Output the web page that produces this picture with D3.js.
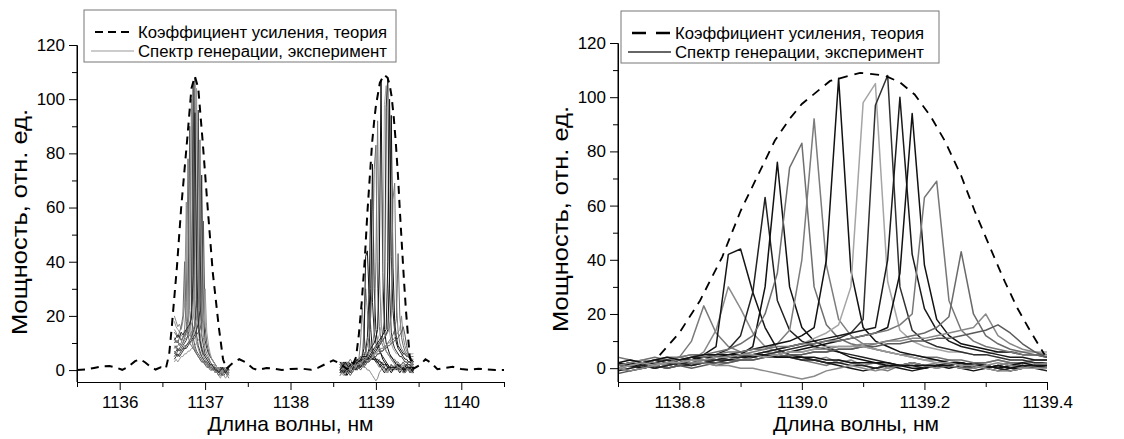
<!DOCTYPE html>
<html>
<head>
<meta charset="utf-8">
<script src="https://cdnjs.cloudflare.com/ajax/libs/d3/7.8.5/d3.min.js"></script>
<style>
  body { margin: 0; background: #fff; }
  svg { display: block; font-family: "Liberation Sans", Arial, sans-serif; }
</style>
</head>
<body>
<svg id="svg" width="1124" height="439"></svg>
<script>
// theory gain curve (nm, rel. units)
var theoryNm = [1135.50, 1135.60, 1135.70, 1135.80, 1135.88, 1135.95, 1136.03, 1136.10, 1136.18, 1136.24,
  1136.30, 1136.36, 1136.42, 1136.48, 1136.54, 1136.58, 1136.61, 1136.67, 1136.72, 1136.79,
  1136.84, 1136.88, 1136.92, 1136.97, 1137.03, 1137.09, 1137.16, 1137.21, 1137.25, 1137.32,
  1137.40, 1137.48, 1137.56, 1137.62, 1137.72, 1137.80, 1137.90, 1138.00, 1138.14, 1138.24,
  1138.32, 1138.42, 1138.50, 1138.58, 1138.66, 1138.72, 1138.768, 1138.80, 1138.834, 1138.87,
  1138.90, 1138.93, 1138.956, 1138.98, 1139.00, 1139.046, 1139.095, 1139.135, 1139.16, 1139.184,
  1139.21, 1139.233, 1139.26, 1139.282, 1139.31, 1139.331, 1139.352, 1139.372, 1139.396, 1139.44,
  1139.52, 1139.58, 1139.65, 1139.72, 1139.80, 1139.90, 1140.00, 1140.10, 1140.20, 1140.30,
  1140.40, 1140.50];
var theoryGain = [0, 0.2, 0.8, 1.4, 1.5, 1.0, 0.1, 1.2, 3.3, 4.0,
  2.8, 1.2, 0.2, 1.0, 0.5, 6, 16, 38, 60, 85,
  104, 108.5, 104, 85, 60, 36, 16, 4, 0.5, 2.5,
  4, 2.8, 0.6, 0, 0.8, 0.6, 0, 0.4, 0.5, 0.1,
  0.8, 2.4, 3.6, 2.4, 0.4, 1.2, 4.8, 13, 25, 41,
  58, 72, 84, 92, 97.5, 106, 109, 108, 105.5, 101,
  93, 84, 71, 58, 43, 32, 22, 14, 5, 0.5,
  2, 4, 2.6, 0.3, 0.8, 1.2, 0.4, 0.1, 0.5, 0.2,
  0, 0];

// measured spectra near the first gain peak
var gridA = [1136.64, 1136.66, 1136.68, 1136.70, 1136.72, 1136.74, 1136.76, 1136.78, 1136.80, 1136.82,
  1136.84, 1136.86, 1136.88, 1136.90, 1136.92, 1136.94, 1136.96, 1136.98, 1137.00, 1137.02,
  1137.04, 1137.06, 1137.08, 1137.10, 1137.12, 1137.14, 1137.16, 1137.18, 1137.20, 1137.22,
  1137.24, 1137.26, 1137.28];
var spectraA = [
  [12, 10, 11, 9, 10, 12, 15, 25, 78, 22, 12, 9, 7, 6, 5, 4, 3, 3, 2, 2, 1, 1, 0, 1, 0, -1, 0, 1, 0, -1, 0, 1, 0],
  [8, 9, 7, 8, 9, 10, 12, 14, 20, 90, 24, 12, 9, 7, 6, 5, 4, 3, 3, 2, 1, 2, 1, 0, -1, 0, 1, 0, -1, -2, -1, 0, 1],
  [15, 14, 12, 13, 11, 12, 13, 15, 18, 28, 100, 30, 14, 10, 8, 6, 5, 4, 3, 2, 2, 1, 0, 1, 0, -1, -2, -1, 0, 1, 0, -1, 0],
  [6, 7, 8, 7, 8, 9, 10, 11, 13, 16, 22, 106, 26, 13, 9, 7, 5, 4, 3, 3, 2, 1, 1, 0, 1, 0, -1, 0, 1, 0, -1, 0, 0],
  [10, 11, 10, 12, 11, 12, 13, 14, 15, 17, 20, 30, 108, 32, 15, 10, 7, 5, 4, 3, 2, 2, 1, 0, -1, 0, 1, 0, -2, -1, 0, 1, 0],
  [18, 16, 15, 14, 13, 12, 12, 13, 14, 15, 17, 19, 25, 104, 28, 14, 9, 7, 5, 4, 3, 2, 1, 1, 0, -1, -2, -3, -1, 0, 1, 0, -1],
  [5, 6, 5, 6, 7, 8, 8, 9, 10, 11, 12, 14, 16, 24, 96, 26, 13, 9, 6, 5, 4, 3, 2, 1, 1, 0, -1, 0, 1, 0, -1, -2, -1],
  [9, 8, 9, 10, 9, 10, 11, 12, 12, 13, 14, 15, 17, 19, 26, 85, 24, 12, 8, 6, 5, 3, 2, 2, 1, 0, -1, -2, -1, 0, -1, -2, -3],
  [4, 5, 6, 5, 6, 7, 8, 8, 9, 10, 11, 12, 13, 15, 17, 22, 72, 20, 11, 8, 6, 5, 4, 3, 2, 1, 0, 1, 0, -1, 0, 1, 0],
  [20, 18, 16, 17, 15, 18, 24, 62, 20, 14, 11, 9, 8, 6, 5, 4, 4, 3, 2, 2, 1, 1, 0, 0, -1, 0, 1, 0, -1, 0, 0, -1, 0],
  [7, 6, 7, 8, 7, 8, 9, 9, 10, 10, 11, 11, 12, 13, 14, 15, 18, 55, 16, 10, 7, 5, 4, 3, 2, 1, 0, -1, -2, -1, 0, -1, -2],
  [14, 13, 12, 14, 16, 20, 40, 18, 13, 10, 9, 8, 7, 6, 5, 4, 3, 3, 2, 1, 1, 0, 0, 1, 0, -1, -2, -1, 0, 1, 0, -1, -1],
  [3, 4, 3, 4, 5, 5, 6, 6, 7, 7, 8, 8, 9, 10, 11, 12, 14, 18, 30, 14, 9, 6, 4, 3, 2, 1, 0, -1, 0, -2, -3, -2, -1],
  [11, 12, 13, 12, 14, 13, 14, 15, 16, 17, 19, 35, 95, 40, 18, 11, 8, 6, 5, 4, 3, 2, 2, 1, 0, 0, -1, 0, 1, 0, -1, 0, 1]
];

// measured spectra near the second gain peak (also the zoomed right panel)
var gridB = [1138.58, 1138.60, 1138.62, 1138.64, 1138.66, 1138.68, 1138.70, 1138.72, 1138.74, 1138.76, 1138.78,
  1138.80, 1138.82, 1138.84, 1138.86, 1138.88, 1138.90, 1138.92, 1138.94, 1138.96, 1138.98, 1139.00,
  1139.02, 1139.04, 1139.06, 1139.08, 1139.10, 1139.12, 1139.14, 1139.16, 1139.18, 1139.20, 1139.22,
  1139.24, 1139.26, 1139.28, 1139.30, 1139.32, 1139.34, 1139.36, 1139.38, 1139.40, 1139.42, 1139.44];
var spectraB = [
  [1, 0, -1, 1, 2, 1, 0, 2, 1, 3, 3,  4, 10, 23, 13, 8, 6, 5, 6, 5, 4, 3,  2, 1, 3, 2, 1, 0, -1, 1, 2, 1, 0,  1, 2, 1, 0, 1, 2, 1, 0, 1, 2, 1],
  [0, 2, 1, 3, 2, 1, 2, 1, 0, 2, 3,  4, 3, 6, 14, 30, 22, 13, 8, 6, 5, 4,  3, 4, 2, 3, 1, 2, 0, 1, 2, 1, 2,  3, 2, 1, 2, 3, 2, 2, 2, 2, 2, 2],
  [2, 1, 0, -1, 1, 0, 1, 2, 1, 0, 1,  2, 3, 5, 8, 42, 44, 28, 15, 7, 5, 4,  3, 2, 1, 0, -1, 0, 1, 0, -1, 0, 1,  0, 1, 2, 1, 0, -1, 0, 1, 0, -1, 0],
  [3, 2, 3, 1, 2, 3, 2, 1, 2, 3, 2,  3, 4, 4, 5, 7, 12, 28, 63, 25, 14, 10,  8, 7, 6, 5, 4, 3, 2, 1, 1, 0, 1,  2, 1, 0, 1, 0, -1, 0, 1, 0, 0, -1],
  [-1, 0, 1, 0, -2, -1, 0, 1, 1, 2, 1,  2, 2, 3, 3, 4, 5, 8, 30, 76, 30, 15,  10, 8, 6, 4, 3, 2, 2, 1, 0, 0, 1,  1, 0, -1, 0, 1, 0, 0, 1, 1, 0, 0],
  [1, 2, 2, 1, 3, 2, 1, 2, 3, 4, 3,  4, 5, 5, 6, 7, 9, 12, 20, 35, 74, 83,  30, 16, 11, 9, 8, 7, 6, 5, 5, 4, 4,  3, 3, 2, 2, 3, 2, 2, 3, 3, 3, 3],
  [0, -1, 0, 1, 0, 1, 2, 1, 0, 1, 2,  2, 3, 3, 4, 4, 5, 6, 7, 9, 14, 40,  92, 38, 18, 12, 9, 7, 6, 5, 4, 3, 3,  2, 2, 1, 1, 0, 1, 1, 0, 0, 1, 0],
  [2, 1, 1, 2, 0, 1, 2, 1, 2, 1, 2,  3, 3, 4, 4, 5, 6, 7, 8, 9, 10, 12,  15, 40, 107, 36, 15, 10, 8, 6, 5, 4, 3,  2, 2, 1, 1, 0, 1, 2, 1, 1, 0, 1],
  [1, 0, 1, 2, 1, 0, -1, 0, 1, 2, 1,  2, 1, 2, 3, 3, 4, 5, 6, 7, 8, 9,  11, 13, 16, 30, 98, 105, 32, 14, 10, 8, 7,  6, 6, 5, 5, 6, 6, 6, 6, 6, 6, 6],
  [-2, -1, 0, -1, 0, 1, 0, -1, 0, 1, 0,  1, 1, 2, 2, 3, 3, 4, 5, 6, 7, 8,  9, 10, 11, 13, 18, 97, 108, 30, 14, 10, 8,  7, 6, 5, 5, 4, 3, 3, 2, 2, 1, 1],
  [3, 2, 1, 2, 3, 2, 1, 2, 1, 2, 3,  2, 3, 3, 4, 4, 5, 5, 6, 7, 8, 9,  10, 11, 12, 13, 14, 15, 40, 100, 42, 22, 14,  10, 8, 7, 6, 5, 4, 4, 3, 3, 2, 2],
  [0, 1, 0, -1, 0, 1, 2, 1, 0, 1, 2,  1, 2, 2, 3, 3, 4, 4, 5, 5, 6, 7,  8, 9, 10, 11, 12, 13, 15, 35, 94, 38, 18,  12, 9, 8, 7, 6, 6, 5, 5, 4, 4, 3],
  [2, 3, 2, 1, 2, 3, 4, 3, 2, 3, 4,  4, 5, 4, 5, 6, 6, 7, 7, 8, 8, 9,  9, 10, 10, 11, 12, 13, 14, 16, 20, 63, 69,  25, 14, 10, 8, 7, 6, 5, 5, 5, 5, 5],
  [0, 1, 2, 1, 0, -1, 0, 1, 2, 1, 0,  1, 2, 2, 1, 2, 3, 3, 4, 4, 5, 5,  6, 6, 7, 7, 8, 9, 10, 11, 12, 13, 15,  19, 43, 20, 12, 9, 7, 6, 5, 4, 3, 3],
  [1, 2, 1, 2, 3, 2, 1, 2, 3, 2, 1,  2, 3, 2, 3, 4, 3, 4, 5, 5, 6, 6,  7, 7, 8, 8, 9, 9, 10, 10, 11, 11, 12,  13, 14, 15, 20, 12, 9, 7, 6, 5, 4, 4],
  [0, -1, 0, 1, 0, -1, -2, -1, 0, 1, 0,  1, 0, 1, 2, 2, 3, 3, 4, 4, 5, 5,  6, 6, 7, 7, 8, 8, 9, 9, 10, 10, 11,  11, 12, 13, 14, 16, 13, 9, 6, 4, 3, 2],
  [-1, 0, -1, -2, -1, 0, -1, 0, 1, 0, 1,  2, 1, 2, 3, 4, 4, 5, 5, 4, 4, 3,  3, 2, 2, 1, 1, 0, 1, 1, 2, 1, 1,  1, 0, 1, 0, -1, 0, 1, 0, -1, 0, -1],
  [2, 1, 0, 1, 2, 1, 0, -1, 0, 1, 2,  3, 2, 2, 1, 1, 0, 0, -1, -2, -3, -4,  -3, -1, 0, 1, 0, -1, 0, 1, 2, 1, 0,  1, 0, 0, 1, 2, 1, 0, 1, 2, 2, 2],
  [0, 1, 2, 3, 2, 1, 2, 3, 2, 3, 4,  3, 4, 5, 5, 5, 5, 4, 5, 4, 4, 4,  4, 3, 3, 2, 2, 2, 1, 1, 1, 1, 1,  1, 2, 1, 0, 1, 0, 1, 1, 1, 1, 1],
  [-2, -1, -2, -1, 0, 1, 0, 1, 2, 1, 2,  2, 3, 3, 4, 4, 5, 5, 4, 5, 6, 6,  7, 8, 8, 8, 8, 7, 6, 5, 4, 3, 2,  2, 1, 1, 0, -1, -1, 0, 0, 0, -1, -1]
];

var majorTicksL = [1136, 1137, 1138, 1139, 1140];
var minorTicksL = [1135.5, 1136.5, 1137.5, 1138.5, 1139.5, 1140.5];
var majorTicksR = [1138.8, 1139.0, 1139.2, 1139.4];
var minorTicksR = [1138.7, 1138.9, 1139.1, 1139.3];
var majorTicksY = [0, 20, 40, 60, 80, 100, 120];
var minorTicksY = [10, 30, 50, 70, 90, 110];

var legendLabels = ["Коэффициент усиления, теория", "Спектр генерации, эксперимент"];
var yTitle = "Мощность, отн. ед.";
var xTitle = "Длина волны, нм";

const svg = d3.select('#svg');
const FONT = '"Liberation Sans", Arial, sans-serif';

var shadesA = ['#777', '#555', '#888', '#444', '#666', '#999', '#444', '#7a7a7a', '#333', '#8c8c8c', '#5a5a5a', '#6a6a6a', '#999', '#2a2a2a'];
var shadesB = ['#7a7a7a', '#8a8a8a', '#151515', '#222', '#111', '#6f6f6f', '#7c7c7c', '#111', '#a5a5a5', '#303030',
  '#1a1a1a', '#111', '#777', '#6a6a6a', '#888', '#5a5a5a', '#222', '#8a8a8a', '#111', '#999'];

function styleAxis(g) {
  g.attr('font-family', FONT).attr('font-size', 17);
  g.selectAll('text').attr('fill', '#000');
  g.selectAll('line,path').attr('stroke', '#000').attr('stroke-width', 1);
}

function drawAxes(x, y, major, minor, fmt) {
  var yb = y.range()[0];
  var xl = x.range()[0];
  svg.append('g').attr('transform', 'translate(0,' + yb + ')')
    .call(d3.axisBottom(x).tickValues(minor).tickSize(5).tickSizeOuter(0).tickFormat(''))
    .call(styleAxis);
  svg.append('g').attr('transform', 'translate(0,' + yb + ')')
    .call(d3.axisBottom(x).tickValues(major).tickSize(8).tickPadding(6).tickSizeOuter(0).tickFormat(fmt))
    .call(styleAxis);
  svg.append('g').attr('transform', 'translate(' + xl + ',0)')
    .call(d3.axisLeft(y).tickValues(minorTicksY).tickSize(5).tickSizeOuter(0).tickFormat(''))
    .call(styleAxis);
  var ya = svg.append('g').attr('transform', 'translate(' + xl + ',0)')
    .call(d3.axisLeft(y).tickValues(majorTicksY).tickSize(8).tickPadding(4).tickSizeOuter(0).tickFormat(d3.format('d')))
    .call(styleAxis);
  // y axis line from the x axis up to 120
  ya.select('.domain').attr('d', 'M0,' + yb + 'V' + y(120));
}

function clipFor(id, x, y) {
  svg.append('clipPath').attr('id', id).append('rect')
    .attr('x', x.range()[0]).attr('y', 0)
    .attr('width', x.range()[1] - x.range()[0]).attr('height', y.range()[0]);
  return 'url(#' + id + ')';
}

// legend box; coordinates inside are relative to its top-left corner
function drawLegend(x0, y0, w, expColor, expWidth, dashArr, dashWidth) {
  var g = svg.append('g').attr('transform', 'translate(' + x0 + ',' + y0 + ')');
  g.append('rect').attr('width', w).attr('height', 52)
    .attr('fill', '#fff').attr('stroke', '#777').attr('stroke-width', 1);
  g.append('line').attr('x1', 11).attr('x2', 50).attr('y1', 22).attr('y2', 22)
    .attr('stroke', '#000').attr('stroke-width', dashWidth).attr('stroke-dasharray', dashArr);
  g.append('line').attr('x1', 7).attr('x2', 50).attr('y1', 41).attr('y2', 41)
    .attr('stroke', expColor).attr('stroke-width', expWidth);
  g.selectAll('text.lg').data(legendLabels).join('text')
    .attr('class', 'lg')
    .attr('x', 54).attr('y', (d, i) => 28 + i * 19)
    .attr('font-family', FONT).attr('font-size', 16).attr('fill', '#000')
    .attr('textLength', 249).attr('lengthAdjust', 'spacingAndGlyphs')
    .text(d => d);
}

function yTitleAt(cx, cy) {
  svg.append('text').attr('transform', 'translate(' + cx + ',' + cy + ') rotate(-90)')
    .attr('text-anchor', 'middle').attr('font-family', FONT).attr('font-size', 22)
    .attr('textLength', 226).attr('lengthAdjust', 'spacingAndGlyphs').text(yTitle);
}

function xTitleAt(cx) {
  svg.append('text').attr('x', cx).attr('y', 431)
    .attr('text-anchor', 'middle').attr('font-family', FONT).attr('font-size', 21).text(xTitle);
}

// ---------- left panel ----------
var xL = d3.scaleLinear().domain([1135.5, 1140.5]).range([77, 504]);
var yL = d3.scaleLinear().domain([-4.4, 120]).range([382, 45]);
var gL = svg.append('g').attr('clip-path', clipFor('clipL', xL, yL));

gL.selectAll('path.sa').data(spectraA).join('path').attr('class', 'sa')
  .attr('d', d3.line().x((d, i) => xL(gridA[i])).y(d => yL(d)))
  .attr('fill', 'none').attr('stroke', (d, i) => shadesA[i]).attr('stroke-width', 1);
gL.selectAll('path.sb').data(spectraB).join('path').attr('class', 'sb')
  .attr('d', d3.line().x((d, i) => xL(gridB[i])).y(d => yL(d)))
  .attr('fill', 'none').attr('stroke', (d, i) => shadesB[i]).attr('stroke-width', 1);
gL.append('path').datum(theoryGain)
  .attr('d', d3.line().x((d, i) => xL(theoryNm[i])).y(d => yL(d)))
  .attr('fill', 'none').attr('stroke', '#000').attr('stroke-width', 2)
  .attr('stroke-dasharray', '8,6');

drawAxes(xL, yL, majorTicksL, minorTicksL, d3.format('d'));
drawLegend(84, 10, 312, '#999', 1, '8,5', 2);
yTitleAt(27, 222);
xTitleAt((xL.range()[0] + xL.range()[1]) / 2);

// ---------- right panel ----------
var xR = d3.scaleLinear().domain([1138.7, 1139.4]).range([618, 1047]);
var yR = d3.scaleLinear().domain([-5.1, 120]).range([382, 43]);
var gR = svg.append('g').attr('clip-path', clipFor('clipR', xR, yR));

gR.selectAll('path.sb').data(spectraB).join('path').attr('class', 'sb')
  .attr('d', d3.line().x((d, i) => xR(gridB[i])).y(d => yR(d)))
  .attr('fill', 'none').attr('stroke', (d, i) => shadesB[i]).attr('stroke-width', 1.5)
  .attr('stroke-linejoin', 'round');
var theoryR = theoryNm.map((n, i) => [n, theoryGain[i]]).filter(p => p[0] >= 1138.76 && p[0] <= 1139.40);
gR.append('path').datum(theoryR)
  .attr('d', d3.line().x(d => xR(d[0])).y(d => yR(d[1])))
  .attr('fill', 'none').attr('stroke', '#000').attr('stroke-width', 1.8)
  .attr('stroke-dasharray', '9,7');

drawAxes(xR, yR, majorTicksR, minorTicksR, d3.format('.1f'));
drawLegend(621, 11, 318, '#333', 1.5, '14,10', 2.5);
yTitleAt(568, 219);
xTitleAt(856);
</script>
</body>
</html>
